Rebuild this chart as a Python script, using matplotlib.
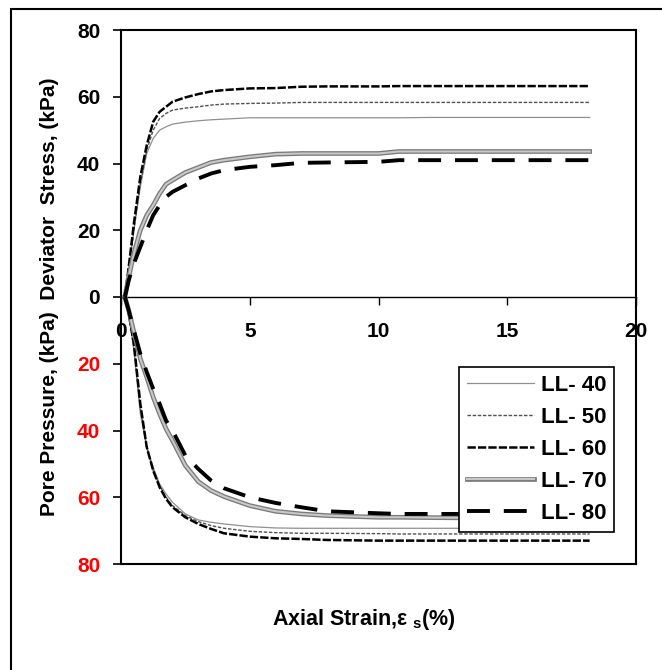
import matplotlib
matplotlib.use("Agg")
import matplotlib.pyplot as plt
from matplotlib.patches import Rectangle
import matplotlib.patheffects as pe

plt.rcParams['font.family'] = ['Liberation Sans', 'DejaVu Sans']
plt.rcParams['font.weight'] = 'bold'
plt.rcParams['lines.scale_dashes'] = False
plt.rcParams['mathtext.fontset'] = 'custom'
plt.rcParams['mathtext.rm'] = 'Liberation Sans:bold'

# ---------------- data ----------------
strain = [0.15, 0.3, 0.5, 0.75, 1.0, 1.25, 1.5, 1.75, 2.0, 2.5, 3.0, 3.5, 4.0,
          5.0, 6.0, 7.0, 8.0, 10.0, 10.8, 12.0, 14.0, 16.0, 18.2]

series_names = ["LL- 40", "LL- 50", "LL- 60", "LL- 70", "LL- 80"]

dev_ll40 = [0, 8, 20, 33, 43, 47.5, 50, 51, 51.8, 52.4, 52.8, 53.1, 53.3,
            53.7, 53.7, 53.7, 53.7, 53.7, 53.7, 53.8, 53.8, 53.8, 53.8]
dev_ll50 = [0, 8, 20, 34, 44, 50, 53.5, 55, 56, 56.6, 57, 57.5, 57.8,
            58, 58.1, 58.3, 58.3, 58.3, 58.3, 58.3, 58.3, 58.3, 58.3]
dev_ll60 = [0, 9, 22, 36, 45.5, 52.5, 55.5, 57, 58.5, 59.8, 60.8, 61.6, 62,
            62.5, 62.6, 63, 63.1, 63.1, 63.2, 63.2, 63.2, 63.2, 63.2]
dev_ll70 = [0, 6, 13, 20, 24.5, 27.5, 31, 33.8, 35, 37.3, 38.8, 40.3, 41,
            42, 42.8, 43, 43, 43, 43.6, 43.6, 43.6, 43.6, 43.6]
dev_ll80 = [0, 5, 10, 15, 20, 24.5, 27.5, 30, 31.5, 33.5, 35.5, 37, 38,
            39, 39.5, 40.2, 40.3, 40.5, 41, 41, 41, 41, 41]

pore_ll40 = [0, 5, 16, 35, 45, 51, 56, 59, 61.5, 65, 66.8, 67.5, 68,
             68.8, 69.2, 69.3, 69.3, 69.3, 69.3, 69.3, 69.3, 69.3, 69.3]
pore_ll50 = [0, 5, 15, 33, 45, 52, 56.5, 60, 62.5, 65.5, 67.3, 68.5, 69.3,
             70.2, 70.6, 70.8, 70.8, 70.9, 71, 71, 71, 71, 71]
pore_ll60 = [0, 5, 14, 32, 45, 52, 57, 60.5, 63, 66, 68, 69.5, 70.8,
             71.8, 72.3, 72.5, 72.8, 73, 73, 73, 73, 73, 73]
pore_ll70 = [0, 4, 10.5, 18.5, 24, 30, 35, 39.5, 43, 50.5, 55.3, 58, 59.8,
             62.5, 64.2, 65, 65.5, 66, 66, 66.1, 66.2, 66.2, 66.2]
pore_ll80 = [0, 4, 10, 17, 22.5, 27.5, 32, 37, 40, 47.5, 51.5, 55, 57.3,
             60, 61.7, 63, 64.2, 64.8, 65, 65, 65, 65.2, 65.3]

deviator = [dev_ll40, dev_ll50, dev_ll60, dev_ll70, dev_ll80]
pore = [pore_ll40, pore_ll50, pore_ll60, pore_ll70, pore_ll80]

y_ticks = [-80, -60, -40, -20, 0, 20, 40, 60, 80]
x_ticks = [0, 5, 10, 15, 20]

# ---------------- styles ----------------
styles = [
    dict(color='#909090', lw=0.9, ls='-'),
    dict(color='#505050', lw=1.0, ls=(0, (2.5, 1.2))),
    dict(color='black', lw=1.8, ls=(0, (6, 1.5))),
    dict(color='#c8c8c8', lw=1.5, ls='-',
         path_effects=[pe.Stroke(linewidth=3.4, foreground='#7a7a7a'), pe.Normal()]),
    dict(color='black', lw=2.8, ls=(0, (16.5, 10))),
]

W, H = 662, 670
fig = plt.figure(figsize=(W / 100, H / 100), dpi=100)
L, R, T, B = 121, 636, 30, 564
ax = fig.add_axes([L / W, 1 - B / H, (R - L) / W, (B - T) / H])

handles = []
for name, dev, pp, st in zip(series_names, deviator, pore, styles):
    kw = dict(color=st['color'], lw=st['lw'], ls=st['ls'])
    if 'path_effects' in st:
        kw['path_effects'] = st['path_effects']
    h, = ax.plot(strain, dev, label=name, **kw)
    ax.plot(strain, [-v for v in pp], **kw)
    handles.append(h)

ax.set_xlim(0, 20)
ax.set_ylim(-80, 80)
for s in ax.spines.values():
    s.set_linewidth(1.5)

ax.tick_params(axis='x', bottom=False, labelbottom=False)
ax.set_yticks(y_ticks)
ax.set_yticklabels([str(abs(t)) for t in y_ticks])
for lab, t in zip(ax.get_yticklabels(), y_ticks):
    lab.set_color('red' if t < 0 else 'black')
    lab.set_fontweight('bold')
ax.tick_params(axis='y', direction='out', length=6, width=1.2, pad=9, labelsize=15)

sec = ax.secondary_xaxis(0.5)
sec.set_alignment('bottom')
sec.spines['bottom'].set_linewidth(1.0)
sec.set_xticks(x_ticks)
sec.set_xticklabels([str(t) for t in x_ticks])
sec.tick_params(axis='x', direction='out', length=6, width=1.0, pad=12, labelsize=15)
for lab in sec.get_xticklabels():
    lab.set_fontweight('bold')

fs_leg = 16
leg = ax.legend(handles=handles, loc='upper right',
                bbox_to_anchor=((614 - L) / (R - L), (B - 367) / (B - T)),
                borderaxespad=0, fancybox=False, framealpha=1,
                edgecolor='black', handlelength=3.0, handletextpad=0.3,
                borderpad=0.35, labelspacing=0.5,
                prop=dict(family='Liberation Sans', weight='bold', size=fs_leg))
leg.get_frame().set_linewidth(1.2)

fig.text(50 / W, 1 - 297 / H, "Pore Pressure, (kPa)  Deviator  Stress, (kPa)",
         rotation=90, ha='center', va='center', fontsize=15, fontweight='bold')
fig.text(364 / W, 1 - 620 / H, r"Axial Strain,ε $_{\rm s}$(%)",
         ha='center', va='center', fontsize=15.5, fontweight='bold')

fig.patches.append(Rectangle((11 / W, -0.1), 2, 1 - 9 / H + 0.1,
                             transform=fig.transFigure, fill=False,
                             lw=1.5, edgecolor='black'))

fig.savefig("out.png", dpi=100)
